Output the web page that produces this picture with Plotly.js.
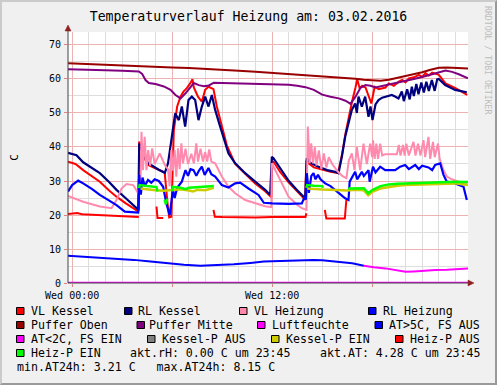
<!DOCTYPE html>
<html><head><meta charset="utf-8">
<script src="https://cdn.plot.ly/plotly-3.0.1.min.js"></script>
<style>
html,body{margin:0;padding:0;background:#F0F0F0;}
#wrap{position:relative;width:497px;height:385px;overflow:hidden;}
#chart{position:absolute;left:0;top:0;width:497px;height:385px;}
#frame{position:absolute;left:0;top:0;width:497px;height:385px;box-sizing:border-box;border-top:2px solid #CBCBCB;border-left:2px solid #CBCBCB;border-bottom:2px solid #999;border-right:2px solid #999;pointer-events:none;}
</style></head>
<body><div id="wrap"><div id="chart"></div><div id="frame"></div></div>
<script>
// ---- data (time in hours of 03.02.2016, value in C) ----
const tickVals = [0, 6, 12, 18];
const tickText = ['Wed 00:00', '', 'Wed 12:00', ''];

const vlKesselT = [-0.25,0.2,0.66,1.2,1.66,2.2,2.66,3.2,3.66,3.98,4.02,4.1,4.3,4.56,4.86,5.2,5.55,5.72,5.82,5.95,6.05,6.1,6.3,6.5,6.68,6.88,7.08,7.22,7.3,7.4,7.55,7.78,7.98,8.18,8.38,8.48,8.68,8.98,9.28,9.78,10.38,10.98,11.58,11.95,12.0,12.1,12.5,13.0,13.5,13.98,14.05,14.1,14.5,15.0,15.5,15.95,16.2,16.4,16.6,16.8,17.0,17.1,17.25,17.4,17.6,17.8,17.95,18.15,18.4,18.8,19.0,19.3,19.6,19.8,20.0,20.2,20.5,20.8,21.0,21.2,21.4,21.6,21.8,22.0,22.4,23.0,23.7];
const vlKesselV = [35.7,35.0,33.2,31.5,29.8,27.3,25.4,23.5,22.0,21.0,41.6,40.0,37.0,34.7,34.0,33.2,32.5,23.5,19.3,19.5,39.1,45.0,51.9,54.8,56.3,57.3,58.7,59.9,57.5,56.3,54.8,53.3,56.8,57.7,57.3,57.0,51.9,46.0,40.5,35.0,32.0,29.3,27.0,25.2,36.0,35.5,32.5,29.5,27.0,24.5,36.0,35.5,34.0,33.3,32.7,32.3,38.0,44.0,49.0,53.5,57.5,59.9,57.3,58.0,57.5,54.8,52.8,57.7,57.0,57.5,58.7,58.0,59.2,59.7,59.0,60.2,60.5,61.2,60.6,61.7,61.0,61.9,61.5,61.2,58.7,57.3,55.3];

const rlKesselT = [-0.25,0.26,0.66,1.2,1.66,2.2,2.66,3.2,3.66,3.98,4.02,4.1,4.3,4.56,4.86,5.2,5.56,5.75,5.98,6.18,6.4,6.58,6.78,6.98,7.18,7.38,7.58,7.78,7.98,8.18,8.38,8.58,8.88,9.38,9.78,10.38,10.98,11.58,11.88,11.98,12.08,12.5,13.0,13.5,13.78,13.98,14.08,14.3,14.78,15.3,15.78,15.98,16.18,16.38,16.58,16.78,16.98,17.08,17.18,17.38,17.58,17.78,17.9,18.02,18.2,18.38,18.6,18.78,19.0,19.18,19.4,19.58,19.78,19.9,20.1,20.25,20.38,20.5,20.65,20.78,20.95,21.1,21.25,21.4,21.58,21.75,21.9,22.0,22.38,22.98,23.68];
const rlKesselV = [38.3,37.6,35.5,33.8,32.3,29.8,27.4,25.0,22.9,21.5,41.0,40.0,37.5,35.2,34.2,33.3,32.4,35.2,43.0,49.9,47.9,51.9,46.0,53.8,54.8,53.8,47.9,51.9,54.8,51.9,55.3,50.9,46.0,38.1,35.2,32.3,29.8,27.4,25.9,37.1,36.7,33.5,30.0,27.3,25.9,24.9,36.7,35.3,34.2,33.2,32.7,32.3,37.1,43.0,47.0,50.9,52.8,50.0,54.8,51.9,54.8,48.9,51.9,47.9,52.5,53.8,54.5,54.8,55.0,55.3,54.8,54.3,56.3,53.5,57.0,54.0,57.7,55.0,58.5,55.5,59.0,56.0,59.2,56.5,59.7,56.5,59.9,60.0,58.2,56.8,56.1];

const vlHeizungT = [-0.25,0.66,1.66,2.36,2.66,2.96,3.26,3.66,3.96,4.1,4.16,4.25,4.35,4.46,4.56,4.68,4.8,4.95,5.25,5.56,5.75,5.85,5.95,6.05,6.15,6.25,6.35,6.45,6.55,6.65,6.8,6.95,7.15,7.3,7.45,7.55,7.7,7.85,7.98,8.1,8.22,8.35,8.58,8.98,9.38,9.78,10.38,10.98,11.58,11.95,11.98,12.38,12.98,13.5,13.78,14.06,14.14,14.25,14.34,14.45,14.56,14.66,14.8,14.95,15.1,15.25,15.4,15.6,15.9,16.2,16.45,16.6,16.78,16.94,17.08,17.28,17.48,17.68,17.88,18.0,18.05,18.15,18.25,18.35,18.48,18.6,18.78,19.48,19.6,19.7,19.85,19.95,20.05,20.2,20.48,20.6,20.75,20.9,21.08,21.18,21.38,21.48,21.65,21.75,21.95,22.05,22.28,22.48,22.78,23.18,23.58,23.7];
const vlHeizungV = [25.6,23.9,22.5,22.0,24.4,27.8,29.1,28.8,26.4,30.0,44.5,33.2,43.0,33.2,39.1,34.5,39.6,35.0,38.1,34.7,33.5,28.5,39.1,33.0,39.1,31.3,39.6,33.5,41.1,35.2,39.5,35.0,38.0,35.2,41.1,35.7,39.5,35.7,38.5,35.7,39.3,35.7,35.2,31.3,28.3,26.4,24.4,23.4,22.6,22.3,35.2,31.3,25.4,23.0,22.0,21.5,46.0,35.2,41.1,35.2,40.0,34.5,39.0,33.5,38.1,34.0,37.0,35.0,33.0,31.5,30.8,36.0,38.1,33.2,40.0,33.2,41.0,35.0,41.0,37.0,42.0,36.5,41.0,36.5,41.0,37.5,37.9,37.9,40.6,37.5,40.6,37.5,41.0,37.5,41.5,37.5,41.0,37.5,42.0,37.0,43.0,36.5,41.5,37.0,41.0,36.5,33.2,31.3,30.5,29.8,29.3,29.0];

const rlHeizungT = [-0.25,0.0,0.36,0.66,1.2,1.66,2.2,2.66,3.16,3.5,3.96,4.02,4.12,4.22,4.35,4.55,4.75,4.95,5.2,5.46,5.65,5.85,5.95,6.05,6.15,6.3,6.58,6.8,6.95,7.1,7.28,7.45,7.6,7.78,7.95,8.18,8.35,8.58,8.98,9.38,9.78,10.08,10.58,11.18,11.5,12.0,13.0,13.78,13.95,14.02,14.08,14.2,14.35,14.48,14.6,14.75,14.9,15.18,15.5,15.78,16.0,16.38,16.58,16.65,16.98,17.1,17.38,17.5,17.78,17.85,18.05,18.2,18.48,18.78,19.38,19.68,19.98,20.2,20.58,20.8,21.0,21.38,21.6,21.78,22.08,22.28,22.48,22.98,23.48,23.58,23.68];
const rlHeizungV = [26.9,28.8,30.1,29.3,27.6,25.9,24.3,22.9,21.0,20.8,20.7,31.8,26.0,31.0,28.5,30.3,29.5,30.5,30.0,28.3,23.4,20.0,23.9,27.4,25.0,28.0,29.8,33.2,31.5,33.5,33.2,31.5,33.0,34.2,31.8,33.8,32.0,31.3,28.8,28.1,29.3,29.5,27.8,25.9,23.6,23.4,23.3,23.4,25.4,24.5,32.3,26.5,31.5,32.3,30.5,31.8,30.5,29.3,28.5,27.4,26.5,24.9,24.4,29.8,32.7,30.5,32.7,31.5,33.2,29.8,34.2,32.5,34.2,33.2,33.2,34.2,34.7,33.5,34.7,33.5,34.5,34.0,33.2,34.7,35.2,31.8,29.8,29.3,28.3,26.5,24.4];

const pufferObenT = [-0.25,1,2,3,4,5,6,7,8,9,10,11,12,13,14,15,16,17,17.5,18,18.5,19,19.5,20,20.5,21,21.5,22,22.5,23,23.75];
const pufferObenV = [64.6,64.4,64.2,64.0,63.8,63.6,63.4,63.2,63.0,62.7,62.4,62.1,61.8,61.5,61.2,60.9,60.5,60.1,59.8,59.6,59.5,59.8,60.3,60.8,61.3,62.0,62.7,63.3,63.4,63.3,63.1];

const pufferMitteT = [-0.25,1,2,3,4.0,4.2,4.4,4.6,5.0,5.5,5.9,6.2,6.5,6.8,7.1,7.3,7.6,7.9,8.2,8.5,9,10,11,12,13,13.5,14,14.5,15,15.5,16,16.4,16.7,17.0,17.3,17.6,17.9,18.2,18.5,19,19.5,20,20.5,21,21.5,22,22.4,22.8,23.2,23.75];
const pufferMitteV = [62.9,62.8,62.6,62.4,62.2,61.5,59.7,58.8,58.5,57.8,56.8,55.3,54.3,55.8,57.6,58.8,58.2,57.9,58.1,58.9,58.8,58.7,58.6,58.5,58.3,58.0,57.6,56.8,55.4,54.8,54.3,53.6,52.7,54.8,57.4,58.2,58.0,57.5,57.8,58.5,58.9,59.4,60.0,60.6,61.2,61.9,62.5,62.1,61.4,60.2];

const luftfeuchteT = [-0.25, 23.75];
const luftfeuchteV = [0, 0];

const atWarmT = [-0.25,0.5,1.7,2.7,3.7,4.7,5.7,6.7,7.7,8.7,9.7,10.7,11.5,12.5,13.5,14.5,15.0,15.5,16.1,16.8,17.5];
const atWarmV = [8.0,7.8,7.4,7.1,6.8,6.3,5.8,5.4,5.1,5.2,5.5,5.9,6.3,6.5,6.7,6.8,6.7,6.4,6.0,5.8,5.1];
const atColdT = [17.5,17.8,18.1,18.8,19.4,20.0,20.5,21.0,21.8,22.5,23.0,23.5,23.75];
const atColdV = [5.1,4.8,4.6,4.3,3.8,3.3,3.4,3.6,3.8,3.9,4.1,4.2,4.3];

const kesselPEinT = [4.1,4.5,5.0,5.5,6.0,6.5,7.0,7.25,7.5,8.0,8.5,null,14.1,14.5,15.0,15.5,16.0,16.5,17.0,17.5,17.76,18.0,18.5,19.0,19.5,20.0,21.0,22.0,23.0,23.5,23.75];
const kesselPEinV = [27.8,27.5,27.3,27.1,27.3,27.6,27.2,26.9,27.4,27.3,28.0,null,27.8,27.6,27.5,27.4,27.3,27.2,27.4,27.3,25.8,26.8,27.8,28.3,28.6,28.8,29.0,29.2,29.3,29.0,28.8];

const heizPAusT = [-0.25,0.3,0.6,1.5,2.5,3.5,4.0,null,5.06,5.12,5.46,null,8.48,8.56,9,10,11,12,13,14.0,14.05,null,15.16,15.25,16.36,16.45];
const heizPAusV = [20.3,20.6,20.2,20.0,19.7,19.5,19.4,null,22.5,19.1,19.1,null,21.5,19.5,19.4,19.3,19.3,19.4,19.3,19.4,20.5,null,21.5,19.0,19.0,24.4];

const heizPEinT = [4.02,4.05,4.5,5.0,5.06,5.12,null,5.55,5.62,5.7,null,6.0,6.05,6.5,6.8,7.0,7.5,8.0,8.5,null,14.05,14.1,14.5,15.0,15.05,null,16.56,17.0,17.5,17.76,18.0,18.5,19.0,19.5,20.0,21.0,22.0,23.0,23.75];
const heizPEinV = [27.9,28.8,28.5,28.3,28.2,26.9,null,24.5,23.2,24.8,null,27.0,28.3,28.0,27.6,28.0,28.1,28.3,28.5,null,28.0,28.8,28.6,28.5,28.0,null,27.8,27.9,27.9,26.4,27.3,28.5,29.0,29.2,29.3,29.5,29.7,29.8,29.7];

const legendLabels = ['VL Kessel','RL Kessel','VL Heizung','RL Heizung','Puffer Oben','Puffer Mitte','Luftfeuchte','AT>5C, FS AUS','AT<2C, FS EIN','Kessel-P AUS','Kessel-P EIN','Heiz-P AUS','Heiz-P EIN'];
const legendColors = ['#FF0000','#000080','#FF88AA','#0000FF','#990000','#800080','#FF00FF','#0000FF','#FF00FF','#808080','#CCCC00','#FF0000','#00FF00'];
const statText = ['akt.rH: 0.00 C um 23:45','akt.AT: 4.28 C um 23:45','min.AT24h: 3.21 C   max.AT24h: 8.15 C'];

// ---- chart ----
const FONT = 'DejaVu Sans Mono, monospace';
function tr(x, y, color, width) {
  return {x: x, y: y, type: 'scatter', mode: 'lines', line: {color: color, width: width},
          connectgaps: false, hoverinfo: 'skip', showlegend: false};
}
const traces = [
  tr(vlKesselT, vlKesselV, '#FF0000', 2),
  tr(rlKesselT, rlKesselV, '#000080', 2.2),
  tr(vlHeizungT, vlHeizungV, '#FF8AAE', 2),
  tr(rlHeizungT, rlHeizungV, '#0000FF', 2.2),
  tr(pufferObenT, pufferObenV, '#990000', 2),
  tr(pufferMitteT, pufferMitteV, '#800080', 2),
  tr(luftfeuchteT, luftfeuchteV, '#FF00FF', 2.5),
  tr(atWarmT, atWarmV, '#0000FF', 2),
  tr(atColdT, atColdV, '#FF00FF', 2),
  tr(kesselPEinT, kesselPEinV, '#CCCC00', 2.5),
  tr(heizPAusT, heizPAusV, '#FF0000', 2),
  tr(heizPEinT, heizPEinV, '#00FF00', 2.5)
];

const L = 68, T = 32, W = 400, H = 251;
const px = x => (x - L) / W;
const py = y => (T + H - y) / H;

const shapes = [];
const annotations = [];
// axis arrows
shapes.push({type:'line', xref:'paper', yref:'paper', x0:px(68), x1:px(68), y0:py(283), y1:py(27), line:{color:'#444', width:1}});
shapes.push({type:'line', xref:'paper', yref:'paper', x0:px(68), x1:px(471), y0:py(283), y1:py(283), line:{color:'#444', width:1}});
shapes.push({type:'path', xref:'paper', yref:'paper',
  path:`M ${px(65)} ${py(31)} L ${px(71)} ${py(31)} L ${px(68)} ${py(25)} Z`, fillcolor:'#902020', line:{color:'#902020', width:0.5}});
shapes.push({type:'path', xref:'paper', yref:'paper',
  path:`M ${px(468)} ${py(280)} L ${px(468)} ${py(286)} L ${px(474)} ${py(283)} Z`, fillcolor:'#902020', line:{color:'#902020', width:0.5}});

// legend layout
const rowsY = [311, 325, 339, 353, 367];
const slots = [
  [0,16.5,30],[0,124.5,137],[0,239.5,252.5],[0,368.5,381.5],
  [1,16.5,30],[1,137,147.5],[1,257.5,270.5],[1,375,388],
  [2,16.5,30],[2,147.5,161],[2,271.5,285],[2,395.5,409],
  [3,16.5,30]
];
slots.forEach((s, i) => {
  const yc = rowsY[s[0]];
  shapes.push({type:'rect', xref:'paper', yref:'paper', x0:px(s[1]), x1:px(s[1]+7.5), y0:py(yc+3.5), y1:py(yc-3.5),
    fillcolor: legendColors[i], line:{color:'#000', width:1}});
  annotations.push({xref:'paper', yref:'paper', x:px(s[2]), y:py(yc), xanchor:'left', yanchor:'middle',
    text: legendLabels[i], showarrow:false, font:{family:FONT, size:11.6, color:'#000'}, borderpad:0});
});
annotations.push({xref:'paper', yref:'paper', x:px(129.3), y:py(rowsY[3]), xanchor:'left', yanchor:'middle',
  text: statText[0], showarrow:false, font:{family:FONT, size:11.6, color:'#000'}, borderpad:0});
annotations.push({xref:'paper', yref:'paper', x:px(319.3), y:py(rowsY[3]), xanchor:'left', yanchor:'middle',
  text: statText[1], showarrow:false, font:{family:FONT, size:11.6, color:'#000'}, borderpad:0});
annotations.push({xref:'paper', yref:'paper', x:px(16), y:py(rowsY[4]), xanchor:'left', yanchor:'middle',
  text: statText[2].replace(/   /, '&nbsp;&nbsp;&nbsp;'), showarrow:false, font:{family:FONT, size:11.6, color:'#000'}, borderpad:0});
// side credit
annotations.push({xref:'paper', yref:'paper', x:px(488), y:py(60), xanchor:'center', yanchor:'middle', textangle:90,
  text:'RRDTOOL / TOBI OETIKER', showarrow:false, font:{family:FONT, size:8.2, color:'#BDBDBD'}, borderpad:0});

const layout = {
  width: 497, height: 385,
  margin: {l: L, r: 497 - L - W, t: T, b: 385 - T - H, pad: 0},
  paper_bgcolor: '#F0F0F0', plot_bgcolor: '#FFFFFF',
  title: {text: 'Temperaturverlauf Heizung am: 03.02.2016', font: {family: FONT, size: 13.2, color: '#000'},
          x: 0.5, xref: 'container', y: 1 - 16.5/385, yref: 'container', yanchor: 'middle', xanchor: 'center'},
  xaxis: {range: [-0.25, 23.75], tickmode: 'array', tickvals: tickVals, ticktext: tickText,
          showgrid: true, gridcolor: '#EDB3B3', gridwidth: 1, zeroline: false, showline: false,
          ticks: 'outside', ticklen: 3, tickcolor: '#E08080', tickfont: {family: FONT, size: 10, color: '#000'},
          minor: {tickmode: 'linear', tick0: 0, dtick: 1, showgrid: true, gridcolor: '#DDDDDD', gridwidth: 1, ticks: ''},
          fixedrange: true},
  yaxis: {range: [0, 73.82], tickmode: 'linear', tick0: 0, dtick: 10,
          showgrid: true, gridcolor: '#EDB3B3', gridwidth: 1, zeroline: false, showline: false,
          ticks: 'outside', ticklen: 3, tickcolor: '#E08080', tickfont: {family: FONT, size: 10, color: '#000'},
          ticklabelstandoff: 1,
          minor: {tickmode: 'linear', tick0: 0, dtick: 5, showgrid: true, gridcolor: '#DDDDDD', gridwidth: 1, ticks: ''},
          title: {text: 'C', font: {family: FONT, size: 11, color: '#000'}, standoff: 28},
          fixedrange: true},
  shapes: shapes,
  annotations: annotations,
  showlegend: false
};
Plotly.newPlot('chart', traces, layout, {staticPlot: true, displayModeBar: false});
</script></body></html>
